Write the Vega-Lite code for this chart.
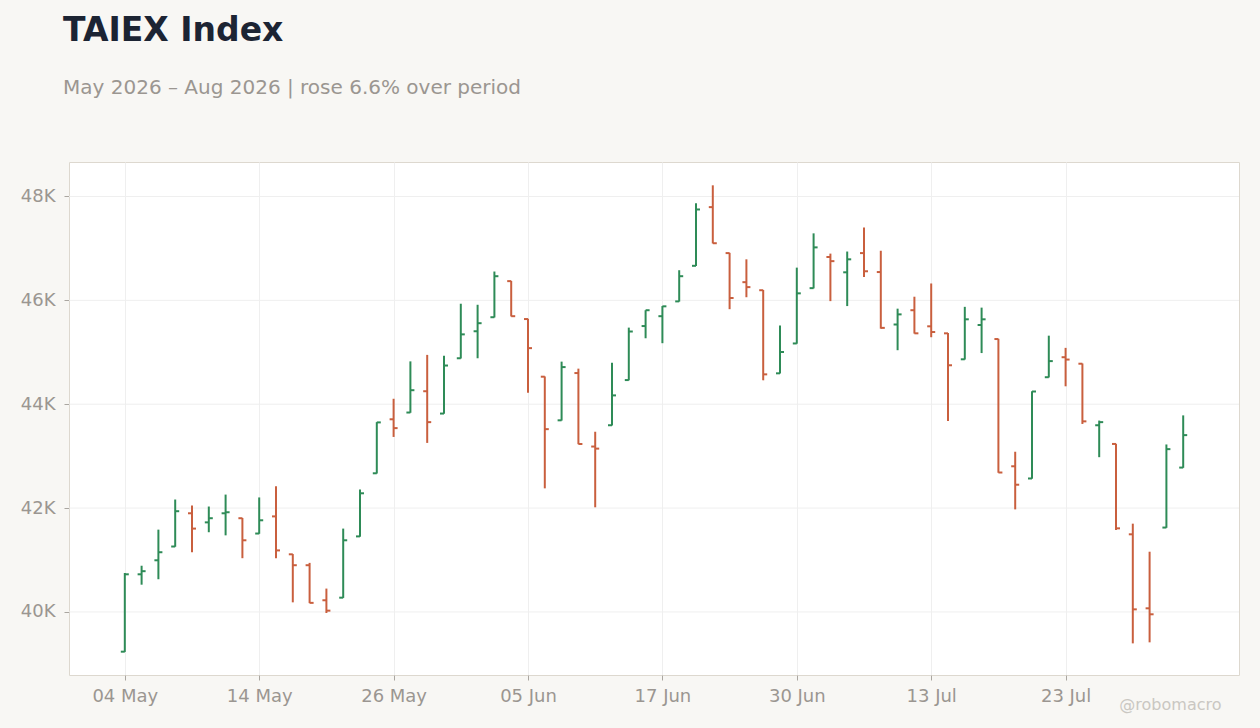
{
  "$schema": "https://vega.github.io/schema/vega-lite/v6.json",
  "width": 1170,
  "height": 513,
  "autosize": {"type": "none"},
  "padding": {"left": 69, "top": 162, "right": 21, "bottom": 53},
  "background": "#f8f7f4",
  "title": {
    "text": "TAIEX Index",
    "subtitle": "May 2026 – Aug 2026 | rose 6.6% over period",
    "anchor": "start",
    "frame": "group",
    "dx": -6,
    "offset": 64,
    "font": "DejaVu Sans",
    "fontSize": 33,
    "fontWeight": "bold",
    "color": "#1c2433",
    "subtitleFont": "DejaVu Sans",
    "subtitleFontSize": 20,
    "subtitleColor": "#9b9691",
    "subtitlePadding": 30
  },
  "config": {
    "font": "DejaVu Sans",
    "view": {"fill": "white", "stroke": "#ddd8cf", "strokeWidth": 1},
    "axis": {
      "labelFont": "DejaVu Sans",
      "labelFontSize": 18,
      "labelColor": "#9b9691",
      "tickColor": "#aaa6a0",
      "tickSize": 5,
      "domain": false,
      "gridColor": "#efefef",
      "gridWidth": 1
    }
  },
  "layer": [
    {
      "data": {"values": [{"level": 40000}, {"level": 42000}, {"level": 44000}, {"level": 46000}, {"level": 48000}]},
      "mark": {"type": "rule", "color": "#efefef", "strokeWidth": 1},
      "encoding": {
        "y": {
          "field": "level",
          "type": "quantitative",
          "scale": {"domain": [38786, 48664], "nice": false, "zero": false},
          "axis": {
            "title": null,
            "values": [40000, 42000, 44000, 46000, 48000],
            "labelExpr": "format(datum.value / 1000, 'd') + 'K'",
            "labelPadding": 9,
            "grid": false
          }
        }
      }
    },
    {
      "data": {
        "values": [
          {"date": "2026-05-04", "open": 39235, "high": 40750, "low": 39230, "close": 40725},
          {"date": "2026-05-05", "open": 40725, "high": 40890, "low": 40525, "close": 40785},
          {"date": "2026-05-06", "open": 40995, "high": 41585, "low": 40630, "close": 41150},
          {"date": "2026-05-07", "open": 41260, "high": 42165, "low": 41255, "close": 41940},
          {"date": "2026-05-08", "open": 41900, "high": 42050, "low": 41150, "close": 41605},
          {"date": "2026-05-11", "open": 41725, "high": 42030, "low": 41535, "close": 41805},
          {"date": "2026-05-12", "open": 41900, "high": 42260, "low": 41475, "close": 41920},
          {"date": "2026-05-13", "open": 41805, "high": 41810, "low": 41035, "close": 41380},
          {"date": "2026-05-14", "open": 41510, "high": 42205, "low": 41505, "close": 41765},
          {"date": "2026-05-15", "open": 41840, "high": 42420, "low": 41035, "close": 41185},
          {"date": "2026-05-18", "open": 41110, "high": 41115, "low": 40185, "close": 40900},
          {"date": "2026-05-19", "open": 40900, "high": 40945, "low": 40170, "close": 40175},
          {"date": "2026-05-20", "open": 40225, "high": 40450, "low": 39980, "close": 40025},
          {"date": "2026-05-21", "open": 40275, "high": 41605, "low": 40270, "close": 41380},
          {"date": "2026-05-22", "open": 41455, "high": 42360, "low": 41450, "close": 42285},
          {"date": "2026-05-25", "open": 42670, "high": 43655, "low": 42665, "close": 43650},
          {"date": "2026-05-26", "open": 43710, "high": 44105, "low": 43370, "close": 43540},
          {"date": "2026-05-27", "open": 43840, "high": 44825, "low": 43835, "close": 44270},
          {"date": "2026-05-28", "open": 44250, "high": 44950, "low": 43255, "close": 43655},
          {"date": "2026-05-29", "open": 43820, "high": 44935, "low": 43815, "close": 44745},
          {"date": "2026-06-01", "open": 44885, "high": 45935, "low": 44880, "close": 45345},
          {"date": "2026-06-02", "open": 45405, "high": 45915, "low": 44885, "close": 45560},
          {"date": "2026-06-03", "open": 45675, "high": 46555, "low": 45670, "close": 46465},
          {"date": "2026-06-04", "open": 46370, "high": 46375, "low": 45690, "close": 45695},
          {"date": "2026-06-05", "open": 45640, "high": 45645, "low": 44220, "close": 45080},
          {"date": "2026-06-08", "open": 44530, "high": 44535, "low": 42380, "close": 43520},
          {"date": "2026-06-09", "open": 43690, "high": 44820, "low": 43685, "close": 44715},
          {"date": "2026-06-10", "open": 44600, "high": 44685, "low": 43230, "close": 43235},
          {"date": "2026-06-11", "open": 43185, "high": 43470, "low": 42015, "close": 43145},
          {"date": "2026-06-12", "open": 43595, "high": 44800, "low": 43590, "close": 44170},
          {"date": "2026-06-15", "open": 44465, "high": 45475, "low": 44460, "close": 45400},
          {"date": "2026-06-16", "open": 45505, "high": 45810, "low": 45270, "close": 45810},
          {"date": "2026-06-17", "open": 45695, "high": 45890, "low": 45175, "close": 45885},
          {"date": "2026-06-18", "open": 45980, "high": 46580, "low": 45975, "close": 46465},
          {"date": "2026-06-22", "open": 46665, "high": 47870, "low": 46660, "close": 47750},
          {"date": "2026-06-23", "open": 47795, "high": 48215, "low": 47095, "close": 47100},
          {"date": "2026-06-24", "open": 46910, "high": 46915, "low": 45830, "close": 46045},
          {"date": "2026-06-25", "open": 46350, "high": 46790, "low": 46060, "close": 46255},
          {"date": "2026-06-26", "open": 46195, "high": 46200, "low": 44460, "close": 44575},
          {"date": "2026-06-29", "open": 44595, "high": 45515, "low": 44590, "close": 45005},
          {"date": "2026-06-30", "open": 45170, "high": 46630, "low": 45165, "close": 46135},
          {"date": "2026-07-01", "open": 46235, "high": 47290, "low": 46230, "close": 47020},
          {"date": "2026-07-02", "open": 46835, "high": 46900, "low": 45985, "close": 46755},
          {"date": "2026-07-06", "open": 46540, "high": 46940, "low": 45890, "close": 46790},
          {"date": "2026-07-07", "open": 46910, "high": 47405, "low": 46450, "close": 46560},
          {"date": "2026-07-08", "open": 46545, "high": 46955, "low": 45455, "close": 45470},
          {"date": "2026-07-09", "open": 45535, "high": 45840, "low": 45040, "close": 45730},
          {"date": "2026-07-10", "open": 45810, "high": 46070, "low": 45360, "close": 45365},
          {"date": "2026-07-13", "open": 45500, "high": 46325, "low": 45290, "close": 45390},
          {"date": "2026-07-14", "open": 45365, "high": 45370, "low": 43675, "close": 44750},
          {"date": "2026-07-15", "open": 44865, "high": 45875, "low": 44860, "close": 45635},
          {"date": "2026-07-16", "open": 45525, "high": 45860, "low": 44985, "close": 45635},
          {"date": "2026-07-17", "open": 45255, "high": 45260, "low": 42680, "close": 42685},
          {"date": "2026-07-20", "open": 42805, "high": 43085, "low": 41975, "close": 42450},
          {"date": "2026-07-21", "open": 42570, "high": 44250, "low": 42565, "close": 44245},
          {"date": "2026-07-22", "open": 44520, "high": 45320, "low": 44515, "close": 44830},
          {"date": "2026-07-23", "open": 44905, "high": 45085, "low": 44345, "close": 44860},
          {"date": "2026-07-24", "open": 44780, "high": 44785, "low": 43620, "close": 43670},
          {"date": "2026-07-27", "open": 43595, "high": 43685, "low": 42980, "close": 43655},
          {"date": "2026-07-28", "open": 43235, "high": 43240, "low": 41580, "close": 41610},
          {"date": "2026-07-29", "open": 41495, "high": 41700, "low": 39395, "close": 40050},
          {"date": "2026-07-30", "open": 40070, "high": 41160, "low": 39415, "close": 39955},
          {"date": "2026-07-31", "open": 41625, "high": 43225, "low": 41620, "close": 43135},
          {"date": "2026-08-03", "open": 42780, "high": 43785, "low": 42775, "close": 43405}
        ]
      },
      "encoding": {
        "x": {
          "field": "date",
          "type": "ordinal",
          "scale": {"type": "point", "padding": 0, "range": [55.8, 1114.2]},
          "axis": {
            "values": ["2026-05-04", "2026-05-14", "2026-05-26", "2026-06-05", "2026-06-17", "2026-06-30", "2026-07-13", "2026-07-23"],
            "labelExpr": "utcFormat(toDate(datum.value), '%d %b')",
            "labelAngle": 0,
            "labelPadding": 7,
            "grid": true,
            "title": "@robomacro",
            "titleFont": "DejaVu Sans",
            "titleFontSize": 16,
            "titleFontWeight": "normal",
            "titleColor": "#cac7c2",
            "titleX": 1152,
            "titleY": 34,
            "titleAlign": "right",
            "titleBaseline": "alphabetic",
            "titleAngle": 0
          }
        },
        "color": {
          "condition": {"test": "datum.close >= datum.open", "value": "#2e8b57"},
          "value": "#c95f3e"
        }
      },
      "layer": [
        {
          "mark": {"type": "rule", "strokeWidth": 2},
          "encoding": {
            "y": {"field": "high", "type": "quantitative", "title": null},
            "y2": {"field": "low"}
          }
        },
        {
          "mark": {"type": "tick", "size": 4, "thickness": 2, "xOffset": -2, "opacity": 1},
          "encoding": {"y": {"field": "open", "type": "quantitative", "title": null}}
        },
        {
          "mark": {"type": "tick", "size": 4, "thickness": 2, "xOffset": 2, "opacity": 1},
          "encoding": {"y": {"field": "close", "type": "quantitative", "title": null}}
        }
      ]
    }
  ]
}
